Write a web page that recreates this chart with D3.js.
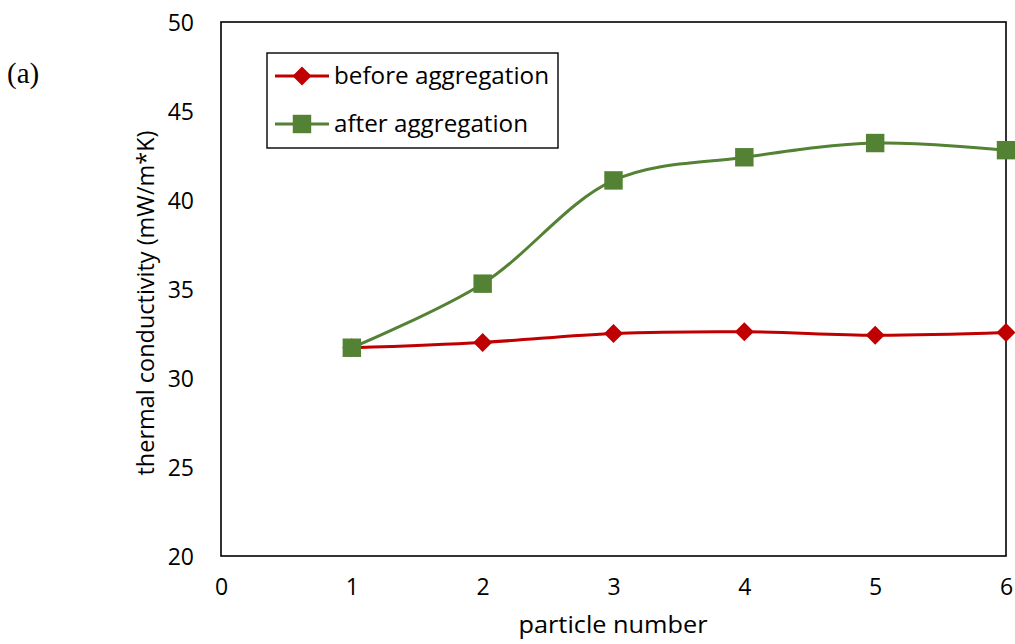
<!DOCTYPE html>
<html>
<head>
<meta charset="utf-8">
<script src="https://cdn.jsdelivr.net/npm/d3@7"></script>
<style>
  html, body { margin: 0; padding: 0; background: #fff; }
  text { font-family: "Open Sans", "Lato", sans-serif; fill: #000; }
</style>
</head>
<body>
<svg id="chart" width="1015" height="644"></svg>
<script>
// Thermal conductivity vs. particle number
const particles = [1, 2, 3, 4, 5, 6];
const beforeAgg = [31.7, 32.0, 32.5, 32.6, 32.4, 32.55];
const afterAgg  = [31.7, 35.3, 41.1, 42.4, 43.2, 42.8];
const xTicks = [0, 1, 2, 3, 4, 5, 6];
const yTicks = [20, 25, 30, 35, 40, 45, 50];
const seriesNames = ["before aggregation", "after aggregation"];

const svg = d3.select("#chart");
const plot = { left: 221, right: 1006, top: 22, bottom: 556 };
const font = "'Open Sans', sans-serif";

const x = d3.scaleLinear().domain([0, 6]).range([plot.left, plot.right]);
const y = d3.scaleLinear().domain([20, 50]).range([plot.bottom, plot.top]);

// Plot frame
svg.append("rect")
  .attr("x", plot.left).attr("y", plot.top)
  .attr("width", plot.right - plot.left).attr("height", plot.bottom - plot.top)
  .attr("fill", "none").attr("stroke", "#000").attr("stroke-width", 1.6);

// Axes (labels only, no tick marks)
const yAxis = d3.axisLeft(y).tickValues(yTicks).tickFormat(d3.format("d")).tickSize(0).tickPadding(27);
svg.append("g").attr("transform", `translate(${plot.left},0)`).call(yAxis)
  .call(g => g.select(".domain").remove())
  .selectAll("text").style("font-size", "23px").attr("font-family", font).attr("dy", "0.36em");

const xAxis = d3.axisBottom(x).tickValues(xTicks).tickFormat(d3.format("d")).tickSize(0).tickPadding(23);
svg.append("g").attr("transform", `translate(0,${plot.bottom})`).call(xAxis)
  .call(g => g.select(".domain").remove())
  .selectAll("text").style("font-size", "23px").attr("font-family", font);

// Axis titles
svg.append("text").attr("x", 613).attr("y", 633)
  .attr("text-anchor", "middle").style("font-size", "24px")
  .attr("textLength", 189).attr("lengthAdjust", "spacingAndGlyphs").text("particle number");
svg.append("text")
  .attr("transform", `translate(154,303) rotate(-90)`)
  .attr("text-anchor", "middle").style("font-size", "23.5px")
  .attr("textLength", 345).attr("lengthAdjust", "spacingAndGlyphs").text("thermal conductivity (mW/m*K)");

// Panel label
svg.append("text").attr("x", 7).attr("y", 83)
  .style("font-family", "'Liberation Serif', serif").style("font-size", "29px").text("(a)");

const line = d3.line().x((d, i) => x(particles[i])).y(d => y(d))
  .curve(d3.curveCatmullRom.alpha(0.5));

const red = "#C00000", green = "#548235";
const diamond = d3.symbol().type(d3.symbolDiamond2).size(230);
const square = d3.symbol().type(d3.symbolSquare).size(340);

// after aggregation
svg.append("path").datum(afterAgg).attr("d", line)
  .attr("fill", "none").attr("stroke", green).attr("stroke-width", 3);
// before aggregation
svg.append("path").datum(beforeAgg).attr("d", line)
  .attr("fill", "none").attr("stroke", red).attr("stroke-width", 3);

svg.append("g").selectAll("path").data(beforeAgg).join("path")
  .attr("d", diamond)
  .attr("transform", (d, i) => `translate(${x(particles[i])},${y(d)})`)
  .attr("fill", red);
svg.append("g").selectAll("path").data(afterAgg).join("path")
  .attr("d", square)
  .attr("transform", (d, i) => `translate(${x(particles[i])},${y(d)})`)
  .attr("fill", green);

// Legend
const lg = svg.append("g");
lg.append("rect").attr("x", 267).attr("y", 53).attr("width", 291).attr("height", 95)
  .attr("fill", "#fff").attr("stroke", "#000").attr("stroke-width", 1.4);
const rows = [
  { name: seriesNames[0], color: red, sym: diamond, cy: 76, len: 215 },
  { name: seriesNames[1], color: green, sym: square, cy: 124, len: 194 }
];
rows.forEach(r => {
  lg.append("line").attr("x1", 275).attr("x2", 329).attr("y1", r.cy).attr("y2", r.cy)
    .attr("stroke", r.color).attr("stroke-width", 3);
  lg.append("path").attr("d", r.sym).attr("transform", `translate(302,${r.cy})`).attr("fill", r.color);
  lg.append("text").attr("x", 334).attr("y", r.cy + 8).style("font-size", "23.5px")
    .attr("textLength", r.len).attr("lengthAdjust", "spacingAndGlyphs").text(r.name);
});
</script>
</body>
</html>
